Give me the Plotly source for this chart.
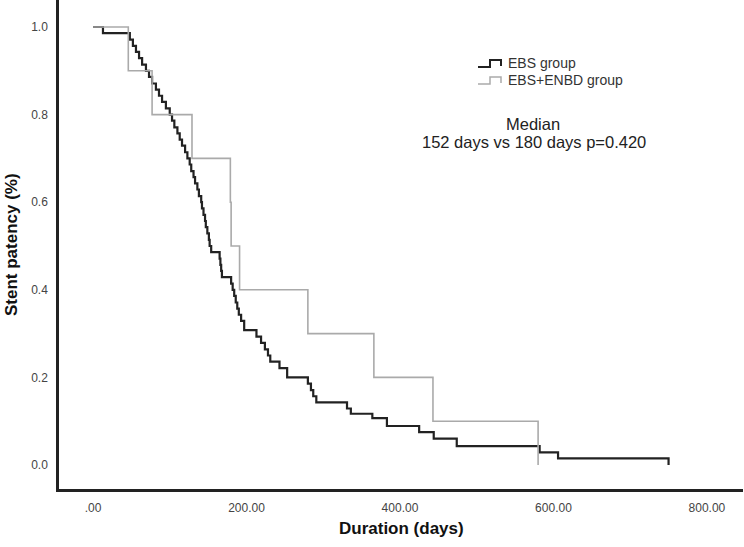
import plotly.graph_objects as go

# EBS group (black) Kaplan-Meier step points
ebs_days = [0, 13, 48, 52, 56, 60, 64, 69, 73, 77, 82, 86, 90, 95, 100, 103, 106, 110,
            113, 116, 120, 123, 126, 128, 131, 133, 136, 138, 141, 142, 144, 146, 147,
            149, 151, 152, 154, 165, 166, 167, 168, 180, 182, 184, 186, 188, 190, 193,
            197, 213, 219, 224, 228, 231, 243, 253, 280, 284, 287, 291, 331, 336, 364,
            383, 425, 444, 474, 582, 606, 750]
ebs_surv = [1.0, 0.986, 0.971, 0.957, 0.943, 0.929, 0.914, 0.900, 0.886, 0.871, 0.857,
            0.843, 0.829, 0.814, 0.800, 0.786, 0.771, 0.757, 0.743, 0.729, 0.714, 0.700,
            0.686, 0.671, 0.657, 0.643, 0.629, 0.614, 0.600, 0.586, 0.571, 0.557, 0.543,
            0.529, 0.514, 0.500, 0.486, 0.471, 0.457, 0.443, 0.429, 0.414, 0.400, 0.386,
            0.371, 0.357, 0.343, 0.329, 0.308, 0.293, 0.279, 0.264, 0.250, 0.236, 0.221,
            0.200, 0.186, 0.171, 0.157, 0.143, 0.129, 0.117, 0.107, 0.089, 0.075, 0.060,
            0.043, 0.029, 0.015, 0.0]

# EBS+ENBD group (gray)
enbd_days = [0, 46, 77, 129, 179, 180, 191, 280, 366, 443, 580]
enbd_surv = [1.0, 0.9, 0.8, 0.7, 0.6, 0.5, 0.4, 0.3, 0.2, 0.1, 0.0]

x_tickvals = [0, 200, 400, 600, 800]
x_ticktext = [".00", "200.00", "400.00", "600.00", "800.00"]
y_tickvals = [0.0, 0.2, 0.4, 0.6, 0.8, 1.0]
y_ticktext = ["0.0", "0.2", "0.4", "0.6", "0.8", "1.0"]

series_names = ["EBS group", "EBS+ENBD group"]
series_colors = ["#222222", "#aaaaaa"]

FONT = "Liberation Sans, Arial, sans-serif"
W, H = 744, 547
ML, MR, MT, MB = 59, 1, 0, 58
PW, PH = W - ML - MR, H - MT - MB


def px_x(p):
    return (p - ML) / PW


def px_y(p):
    return (MT + PH - p) / PH


fig = go.Figure()
fig.add_trace(go.Scatter(x=ebs_days, y=ebs_surv, mode="lines", line_shape="hv",
                         line=dict(color=series_colors[0], width=2.2), name=series_names[0]))
fig.add_trace(go.Scatter(x=enbd_days, y=enbd_surv, mode="lines", line_shape="hv",
                         line=dict(color=series_colors[1], width=1.6), name=series_names[1]))

# custom step-shaped legend glyphs
shapes = []
annotations = []
for i, (nm, col) in enumerate(zip(series_names, series_colors)):
    cy = 63 + 17 * i
    path = (f"M {px_x(478)},{px_y(cy + 4)} H {px_x(490)} V {px_y(cy - 3)} "
            f"H {px_x(501)} V {px_y(cy + 3)}")
    shapes.append(dict(type="path", xref="paper", yref="paper", path=path,
                       line=dict(color=col, width=2 if i == 0 else 1.5)))
    annotations.append(dict(xref="paper", yref="paper", x=px_x(506), y=px_y(cy),
                            text=nm, showarrow=False, xanchor="left", yanchor="middle",
                            font=dict(size=14, color="#333333", family=FONT)))

annotations += [
    dict(xref="paper", yref="paper", x=px_x(533), y=px_y(124), text="Median",
         showarrow=False, xanchor="center", yanchor="middle",
         font=dict(size=16.5, color="#222222", family=FONT)),
    dict(xref="paper", yref="paper", x=px_x(534), y=px_y(142),
         text="152 days vs 180 days p=0.420",
         showarrow=False, xanchor="center", yanchor="middle",
         font=dict(size=16.5, color="#222222", family=FONT)),
    dict(xref="paper", yref="paper", x=px_x(401), y=px_y(528),
         text="<b>Duration (days)</b>", showarrow=False,
         xanchor="center", yanchor="middle",
         font=dict(size=17, color="#111111", family=FONT)),
    dict(xref="paper", yref="paper", x=px_x(12), y=px_y(245),
         text="<b>Stent patency (%)</b>", showarrow=False, textangle=-90,
         xanchor="center", yanchor="middle",
         font=dict(size=17, color="#111111", family=FONT)),
]

fig.update_layout(
    width=W, height=H,
    margin=dict(l=ML, r=MR, t=MT, b=MB, autoexpand=False),
    paper_bgcolor="white", plot_bgcolor="white",
    font=dict(family=FONT, color="#444444", size=12),
    showlegend=False,
    xaxis=dict(range=[-44.3, 847], tickvals=x_tickvals, ticktext=x_ticktext,
               showgrid=False, zeroline=False, showline=True, linecolor="#222222",
               linewidth=2.5, ticks="", ticklabelstandoff=6, automargin=False,
               tickfont=dict(size=12, color="#444444")),
    yaxis=dict(range=[-0.0548, 1.0616], tickvals=y_tickvals, ticktext=y_ticktext,
               showgrid=False, zeroline=False, showline=True, linecolor="#222222",
               linewidth=2.5, ticks="", ticklabelstandoff=6, automargin=False,
               tickfont=dict(size=12, color="#444444")),
    shapes=shapes,
    annotations=annotations,
)

fig.write_html(
    "out.html",
    config={"displayModeBar": False},
    post_script="document.body.style.margin='0';document.body.style.overflow='hidden';",
)
